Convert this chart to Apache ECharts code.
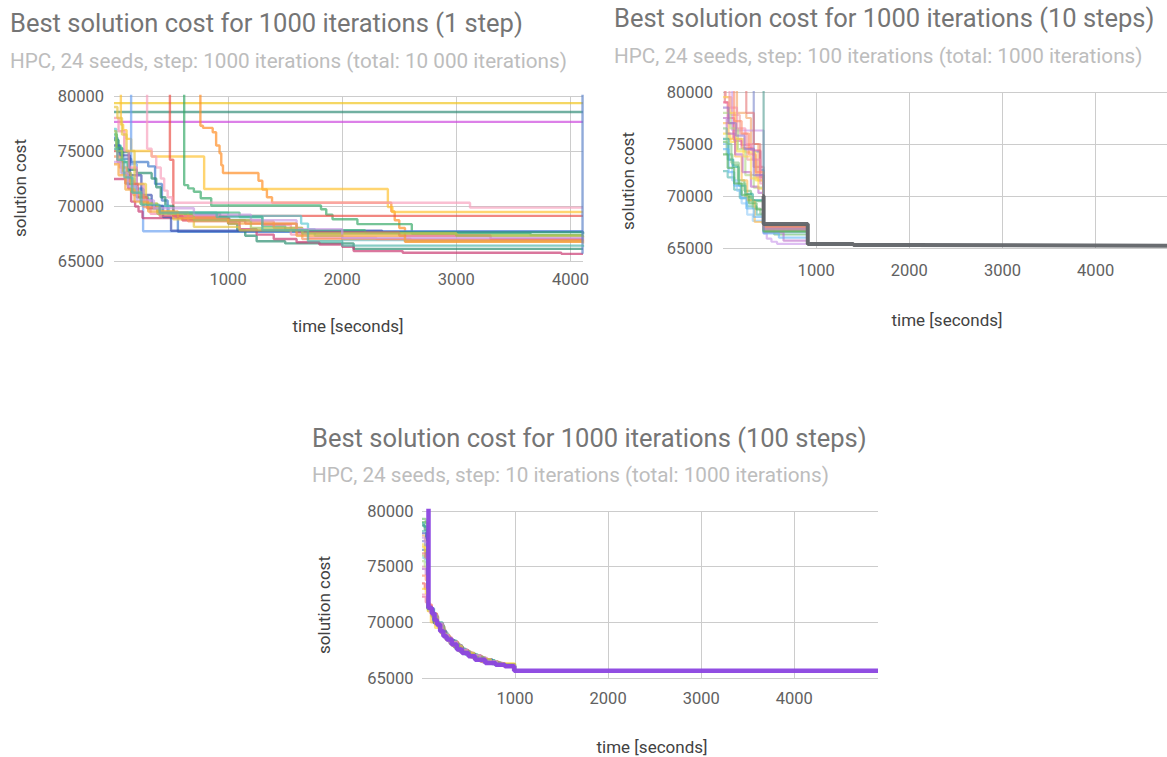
<!DOCTYPE html>
<html><head><meta charset="utf-8">
<script src="https://cdn.jsdelivr.net/npm/echarts@6/dist/echarts.min.js"></script>
<style>html,body{margin:0;padding:0;background:#fff}#chart{width:1167px;height:757px}</style>
</head><body><div id="chart"></div>
<script>
// ---------- tick labels ----------
const xTickLabels = [1000, 2000, 3000, 4000];
const yTickLabels = [65000, 70000, 75000, 80000];

// ---------- chart 1: 1 step (time [s], best cost) ----------
const c1_s01 = [[0,79350],[4110,79350]];
const c1_s02 = [[0,78550],[4110,78550]];
const c1_s03 = [[0,77650],[4110,77650]];
const c1_s04 = [[0,90000],[757,77300],[780,77100],[865,76700],[895,75500],[925,74800],[940,73700],[955,73000],[1266,72300],[1300,71500],[1340,70800],[1385,70300],[2430,69500],[2460,68700],[2500,68000],[2550,66750],[4110,66750]];
const c1_s05 = [[0,90000],[60,77400],[80,76900],[110,76100],[150,75000],[330,74500],[790,71550],[2400,69900],[2440,69450],[4110,69450]];
const c1_s06 = [[0,90000],[615,71900],[650,71600],[700,71300],[760,70700],[852,70050],[1814,69700],[1860,69200],[1915,68800],[2133,68350],[2610,67500],[3650,67350],[4110,67350]];
const c1_s07 = [[0,90000],[490,74200],[520,69100],[4110,69050]];
const c1_s08 = [[0,90000],[290,75200],[330,74500],[370,73500],[410,72500],[440,71400],[470,70800],[510,70300],[3120,69850],[4110,69850]];
const c1_s09 = [[0,90000],[150,73800],[200,71600],[255,67700],[4110,67650]];
const c1_s10 = [[0,76200],[30,75200],[80,74300],[150,74000],[300,73600],[360,72000],[420,70500],[470,69300],[560,67650],[4110,67600]];
const c1_s11 = [[0,76000],[40,74900],[130,73300],[200,73000],[330,72500],[370,71700],[410,70800],[450,70000],[520,69300],[930,69000],[1000,68400],[1080,67800],[1150,67300],[1250,66800],[1500,66600],[2100,66100],[4110,66100]];
const c1_s12 = [[0,72450],[100,72050],[125,71600],[150,70400],[185,69950],[215,69500],[250,68900],[1010,68600],[1100,67900],[1250,67400],[1400,67000],[1600,66700],[1800,66500],[2000,66300],[2100,65900],[2530,65750],[3920,65650],[4110,65650]];
const c1_s13 = [[0,77000],[20,75500],[60,74000],[120,72500],[180,71500],[260,70600],[330,70000],[480,69400],[1000,69100],[1640,68400],[1700,67900],[1760,67300],[2000,66900],[4110,66850]];
const c1_s14 = [[0,75500],[50,74600],[140,72800],[240,71000],[330,70000],[430,69000],[500,67750],[2350,67650],[4110,67500]];
const c1_s15 = [[0,76500],[25,75300],[70,74000],[120,72000],[200,70800],[300,69800],[420,69400],[1100,69000],[1300,68200],[1500,67800],[2200,67600],[4110,67400]];
const c1_s16 = [[0,78000],[40,76800],[90,75000],[130,73500],[200,72000],[260,70500],[320,69300],[600,68700],[1300,68300],[1550,67400],[1700,67100],[2300,67000],[4110,66900]];
const c1_s17 = [[0,79000],[30,78000],[70,76500],[110,75000],[180,72000],[280,70200],[380,69500],[520,68800],[700,68100],[1100,67800],[1700,67500],[3000,67300],[4110,67100]];
const c1_s18 = [[0,75000],[30,74000],[80,73000],[140,72000],[210,70800],[290,69800],[400,69100],[600,68700],[1150,68400],[1600,67600],[2500,67300],[3300,67000],[4110,66950]];
const c1_s19 = [[0,74500],[50,73500],[110,72300],[170,71000],[260,69900],[400,69400],[650,68600],[1400,68000],[1650,67000],[2600,66900],[4110,66800]];
const c1_s20 = [[0,76800],[20,75000],[70,73000],[150,71300],[230,70200],[380,69300],[700,68700],[1200,68000],[1650,67500],[3000,67300],[4110,67200]];
const c1_s21 = [[0,74000],[60,73000],[120,71800],[200,70500],[350,69800],[700,69200],[1200,68700],[1600,67900],[2000,67100],[4110,67000]];
const c1_s22 = [[0,73800],[40,72800],[100,71500],[180,70400],[300,69500],[560,68900],[1000,68400],[1600,67300],[2550,66800],[4110,66600]];
const c1_s23 = [[0,90000],[4106,65650]];
const c1_s24 = [[0,75200],[30,74200],[90,72600],[160,71200],[240,70100],[400,69400],[900,69000],[1300,67800],[1700,66800],[2000,66400],[4110,66300]];

// ---------- chart 2: 10 steps ----------
const c2_s01 = [[0,90000],[20,79000],[60,77000],[110,75500],[200,74600],[330,72800],[436,67200],[600,66900],[910,65350]];
const c2_s02 = [[0,90000],[150,78000],[250,77500],[300,75000],[380,71500],[436,67100],[700,66800],[910,65350]];
const c2_s03 = [[0,90000],[100,76300],[436,66400],[470,65900],[520,65600],[580,65400],[910,65350]];
const c2_s04 = [[0,90000],[330,74300],[400,72500],[436,67000],[910,65350]];
const c2_s05 = [[0,79000],[50,77500],[120,75300],[200,74900],[300,74400],[400,72000],[436,66900],[650,66600],[910,65350]];
const c2_s06 = [[0,76000],[80,75200],[150,74300],[250,74200],[350,71500],[436,67000],[910,65350]];
const c2_s07 = [[0,75200],[40,74000],[100,73000],[160,71500],[230,70500],[300,69500],[436,66700],[550,66300],[910,65350]];
const c2_s08 = [[0,72400],[50,71800],[120,70600],[180,69800],[260,69000],[360,68200],[436,66600],[910,65350]];
const c2_s09 = [[0,75000],[50,73500],[100,71500],[150,70500],[200,69300],[260,68200],[320,67600],[436,66500],[910,65350]];
const c2_s10 = [[0,77000],[60,75500],[130,73800],[200,71500],[260,69600],[340,67500],[436,66800],[910,65350]];
const c2_s11 = [[0,90000],[30,79500],[90,77800],[180,76000],[260,73500],[360,71800],[436,67100],[910,65350]];
const c2_s12 = [[0,75500],[60,73500],[110,72800],[170,71000],[240,70200],[320,69600],[436,66900],[910,65350]];
const c2_s13 = [[0,78000],[80,76500],[160,74500],[240,72000],[330,70800],[436,66700],[910,65350]];
const c2_s14 = [[0,77500],[40,76000],[130,74000],[210,72300],[300,70900],[380,70300],[436,66500],[650,65700],[910,65350]];
const c2_s15 = [[0,90000],[250,78000],[330,75000],[400,71800],[436,67000],[910,65350]];
const c2_s16 = [[0,76500],[40,75000],[90,73200],[170,71200],[240,69900],[320,68800],[400,68300],[436,66600],[910,65350]];
const c2_s17 = [[0,79500],[70,78000],[140,75500],[220,73800],[300,71700],[380,70700],[436,66800],[910,65350]];
const c2_s18 = [[0,74500],[60,72300],[120,71000],[190,69800],[250,68800],[330,68000],[436,66400],[600,66000],[910,65350]];
const c2_s19 = [[0,90000],[70,78500],[150,76500],[240,75000],[320,73500],[400,71200],[436,66900],[910,65350]];
const c2_s20 = [[0,74000],[50,72700],[120,71200],[200,70100],[280,69300],[360,68700],[436,66600],[910,65350]];
const c2_s21 = [[0,90000],[120,77200],[200,76000],[280,74000],[350,72300],[436,67100],[910,65350]];
const c2_s22 = [[0,78500],[60,77000],[140,75800],[230,74500],[330,72000],[436,66800],[910,65350]];
const c2_s23 = [[0,90000],[436,67200],[910,65350]];
const c2_s24 = [[425,70000],[436,67300],[910,65380],[1400,65280],[2000,65220],[4766,65220]];

// ---------- chart 3: 100 steps ----------
const c3_s01 = [[0,78700],[30,78300],[58,71300],[110,71200],[118,70000],[185,69300],[255,68550],[325,67950],[430,67250],[560,66700],[700,66330],[880,66050],[1000,65650]];
const c3_s02 = [[0,75000],[45,74700],[55,71500],[105,70700],[165,69700],[235,68750],[300,68100],[400,67400],[520,66850],[660,66400],[850,66100],[990,65650]];
const c3_s03 = [[0,77000],[30,76200],[65,71000],[100,70650],[150,69950],[215,68950],[285,68250],[375,67550],[480,67050],[620,66500],[800,66150],[995,65650]];
const c3_s04 = [[0,72300],[40,71800],[80,71100],[120,70500],[175,69500],[245,68650],[320,67950],[420,67300],[540,66800],[700,66300],[900,66050],[1000,65650]];
const c3_s05 = [[0,79000],[50,78000],[68,71200],[112,70550],[170,69650],[240,68650],[305,68050],[405,67350],[525,66850],[680,66350],[860,66100],[985,65650]];
const c3_s06 = [[0,76500],[40,75800],[62,71250],[130,70900],[135,69900],[200,69100],[270,68400],[350,67700],[450,67150],[580,66650],[760,66250],[990,65650]];
const c3_s07 = [[0,77800],[35,77300],[60,71400],[108,70750],[160,69850],[225,68850],[290,68200],[390,67450],[500,66950],[640,66450],[820,66100],[1000,65650]];
const c3_s08 = [[0,76000],[25,75700],[66,71100],[100,70500],[150,69850],[205,69050],[275,68350],[360,67650],[470,67100],[600,66600],[780,66200],[990,65650]];
const c3_s09 = [[0,74800],[40,74300],[70,71200],[110,70600],[165,69700],[235,68700],[300,68050],[395,67400],[510,66900],[650,66400],[830,66100],[995,65650]];
const c3_s10 = [[0,78200],[45,77600],[64,71300],[115,70400],[170,69550],[230,68750],[295,68150],[385,67500],[495,67000],[635,66450],[815,66150],[1000,65650]];
const c3_s11 = [[0,73500],[30,73000],[60,71600],[105,70800],[160,69900],[225,68850],[285,68300],[380,67550],[490,67050],[630,66500],[810,66150],[990,65650]];
const c3_s12 = [[0,75800],[40,75400],[66,71200],[105,70700],[155,69950],[210,69000],[280,68300],[370,67600],[475,67050],[610,66550],[790,66200],[995,65650]];
const c3_s13 = [[0,76800],[30,76400],[62,71000],[95,70000],[145,69700],[200,69150],[260,68400],[340,67800],[440,67200],[570,66700],[740,66300],[990,65650]];
const c3_s14 = [[0,78900],[20,78600],[55,71300],[100,70800],[150,70000],[220,68900],[280,68350],[370,67600],[470,67100],[600,66600],[780,66200],[1000,65650]];
const c3_s15 = [[0,72500],[50,72200],[75,71000],[115,70500],[170,69600],[240,68700],[310,68000],[410,67350],[530,66850],[680,66350],[870,66050],[990,65650]];
const c3_s16 = [[0,77300],[35,76900],[70,71300],[110,70700],[160,69850],[230,68800],[295,68150],[390,67500],[500,67000],[640,66450],[820,66100],[1000,65650]];
const c3_s17 = [[0,75500],[30,75000],[64,71100],[105,70650],[160,69800],[220,68900],[290,68200],[380,67500],[490,67000],[630,66500],[810,66150],[995,65650]];
const c3_s18 = [[0,74200],[40,73800],[66,71300],[108,70700],[165,69700],[230,68800],[300,68100],[395,67450],[505,66950],[650,66450],[830,66100],[990,65650]];
const c3_s19 = [[0,78000],[45,77500],[60,71200],[125,71000],[130,69900],[190,69200],[260,68450],[340,67800],[440,67200],[570,66700],[750,66250],[1000,65650]];
const c3_s20 = [[0,76200],[35,75800],[65,71200],[105,70600],[160,69800],[225,68850],[290,68250],[385,67500],[495,67000],[640,66450],[820,66100],[995,65650]];
const c3_s21 = [[0,73000],[40,72600],[62,71400],[100,70700],[140,69500],[200,69000],[255,68450],[330,67850],[430,67250],[560,66700],[740,66300],[1000,65650]];
const c3_s22 = [[0,79300],[40,78900],[67,71200],[110,70600],[165,69700],[235,68700],[300,68100],[400,67400],[515,66900],[660,66400],[845,66100],[990,65650]];
const c3_s23 = [[0,77600],[30,77200],[63,71300],[102,70700],[155,69900],[220,68900],[285,68250],[375,67550],[485,67050],[625,66500],[805,66150],[995,65650]];
const c3_s24 = [[0,90000],[70,71300],[105,70800],[135,70200],[160,69800],[195,69200],[230,68750],[265,68450],[320,68000],[375,67550],[430,67250],[500,66950],[570,66650],[680,66350],[790,66200],[890,66050],[990,65650],[4900,65650]];

// ---------- colours ----------
const colors1 = ['#f0c419','#2e8b74','#cc44dd','#ff8a1f','#ffc12e','#34a865','#ea4e45','#f8a0bd','#6aa0f0','#3c78c8','#258a6c','#c8356e','#58c8d2','#3d4fb0','#3cb878','#f48cb0','#e8c540','#e45c6c','#f79060','#a3c255','#c99be3','#f5a23a','#5b82c8','#4fb5aa'];
const colors2 = ['#e06c75','#f4a261','#c792ea','#7986cb','#f06292','#fdd835','#66bb6a','#4db6ac','#90caf9','#ffb74d','#ef9a9a','#26a69a','#aed581','#ba68c8','#e57373','#81c784','#ffd54f','#64b5f6','#f48fb1','#4caf50','#ff8a65','#9575cd','#4f9a8f','#616468'];
const colors3 = ['#2e7d6e','#f8a5c2','#f5d94a','#e8628e','#5cb85c','#4a7fc1','#f2a65a','#9ccc65','#ba68c8','#4db6ac','#ef5350','#81d4fa','#ffca28','#26a69a','#f48fb1','#7986cb','#aed581','#ff8a65','#3f51b5','#e57373','#fdd835','#66bb6a','#ce93d8','#8b45e0'];

const runs1 = [c1_s01,c1_s02,c1_s03,c1_s04,c1_s05,c1_s06,c1_s07,c1_s08,c1_s09,c1_s10,c1_s11,c1_s12,c1_s13,c1_s14,c1_s15,c1_s16,c1_s17,c1_s18,c1_s19,c1_s20,c1_s21,c1_s22,c1_s23,c1_s24];
const runs2 = [c2_s01,c2_s02,c2_s03,c2_s04,c2_s05,c2_s06,c2_s07,c2_s08,c2_s09,c2_s10,c2_s11,c2_s12,c2_s13,c2_s14,c2_s15,c2_s16,c2_s17,c2_s18,c2_s19,c2_s20,c2_s21,c2_s22,c2_s23,c2_s24];
const runs3 = [c3_s01,c3_s02,c3_s03,c3_s04,c3_s05,c3_s06,c3_s07,c3_s08,c3_s09,c3_s10,c3_s11,c3_s12,c3_s13,c3_s14,c3_s15,c3_s16,c3_s17,c3_s18,c3_s19,c3_s20,c3_s21,c3_s22,c3_s23,c3_s24];

const FONT = 'Roboto, "Noto Sans", sans-serif';

function mkSeries(runs, colors, gi, lastWidth, lastOpacity) {
  return runs.map((d, i) => {
    const last = (gi > 0 && i === runs.length - 1);
    return {
      type: 'line', name: 'seed ' + (i + 1), xAxisIndex: gi, yAxisIndex: gi,
      data: d, step: 'end', symbol: 'none', silent: true, animation: false,
      lineStyle: { color: colors[i], width: last ? lastWidth : (gi === 0 ? 2.4 : 2.2), opacity: last ? lastOpacity : (gi === 0 ? 0.68 : 0.6), cap: 'butt' },
      z: last ? 5 : 2
    };
  });
}

function xAxisCfg(gi, max, margin) {
  return {
    type: 'value', gridIndex: gi, min: 0, max: max, interval: 1000,
    axisLine: { show: false }, axisTick: { show: false },
    axisLabel: { color: '#616161', fontSize: 16.5, fontFamily: FONT, margin: margin, showMinLabel: false, showMaxLabel: false,
      formatter: v => xTickLabels.includes(v) ? String(v) : '' },
    splitLine: { show: true, showMinLine: false, showMaxLine: false, lineStyle: { color: '#cccccc', width: 1 } }
  };
}
function yAxisCfg(gi, margin) {
  return {
    type: 'value', gridIndex: gi, min: 65000, max: 80000, interval: 5000,
    axisLine: { show: false }, axisTick: { show: false },
    axisLabel: { color: '#616161', fontSize: 16.5, fontFamily: FONT, margin: margin,
      formatter: v => yTickLabels.includes(v) ? String(v) : '' },
    splitLine: { show: true, lineStyle: { color: '#cccccc', width: 1 } }
  };
}

const titleStyle = { fontSize: 25.5, color: '#757575', fontWeight: 'normal', fontFamily: FONT };
const subStyle = { fontSize: 20.7, color: '#bdbdbd', fontWeight: 'normal', fontFamily: FONT };
const nameStyle = { fontSize: 17, fill: '#424242', fontFamily: FONT, align: 'center', verticalAlign: 'middle' };

function axisName(text, x, y, rot) {
  return { type: 'text', x: x, y: y, rotation: rot ? Math.PI / 2 : 0, silent: true,
    style: Object.assign({ text: text }, nameStyle) };
}

const chart = echarts.init(document.getElementById('chart'), null, { renderer: 'svg' });
chart.setOption({
  animation: false,
  backgroundColor: '#ffffff',
  title: [
    { text: 'Best solution cost for 1000 iterations (1 step)', left: 10, top: 10, padding: 0, textStyle: titleStyle },
    { text: 'HPC, 24 seeds, step: 1000 iterations (total: 10 000 iterations)', left: 10, top: 50.5, padding: 0, textStyle: subStyle },
    { text: 'Best solution cost for 1000 iterations (10 steps)', left: 614, top: 5, padding: 0, textStyle: titleStyle },
    { text: 'HPC, 24 seeds, step: 100 iterations (total: 1000 iterations)', left: 614, top: 45, padding: 0, textStyle: subStyle },
    { text: 'Best solution cost for 1000 iterations (100 steps)', left: 312, top: 425, padding: 0, textStyle: titleStyle },
    { text: 'HPC, 24 seeds, step: 10 iterations (total: 1000 iterations)', left: 312, top: 464, padding: 0, textStyle: subStyle }
  ],
  grid: [
    { left: 114, top: 96, width: 469, height: 165 },
    { left: 723, top: 92, width: 448, height: 156 },
    { left: 422, top: 511, width: 456, height: 167 }
  ],
  xAxis: [xAxisCfg(0, 4110, 9.5), xAxisCfg(1, 4766, 13.5), xAxisCfg(2, 4900, 12)],
  yAxis: [yAxisCfg(0, 10), yAxisCfg(1, 10), yAxisCfg(2, 8.5)],
  graphic: [
    axisName('time [seconds]', 348, 326, false),
    axisName('solution cost', 20, 188, true),
    axisName('time [seconds]', 947, 320, false),
    axisName('solution cost', 628, 181, true),
    axisName('time [seconds]', 652, 747, false),
    axisName('solution cost', 324, 605, true)
  ],
  series: [].concat(
    mkSeries(runs1, colors1, 0, 2, 0.7),
    mkSeries(runs2, colors2, 1, 4, 0.95),
    mkSeries(runs3, colors3, 2, 4.5, 0.95)
  )
});
</script></body></html>
